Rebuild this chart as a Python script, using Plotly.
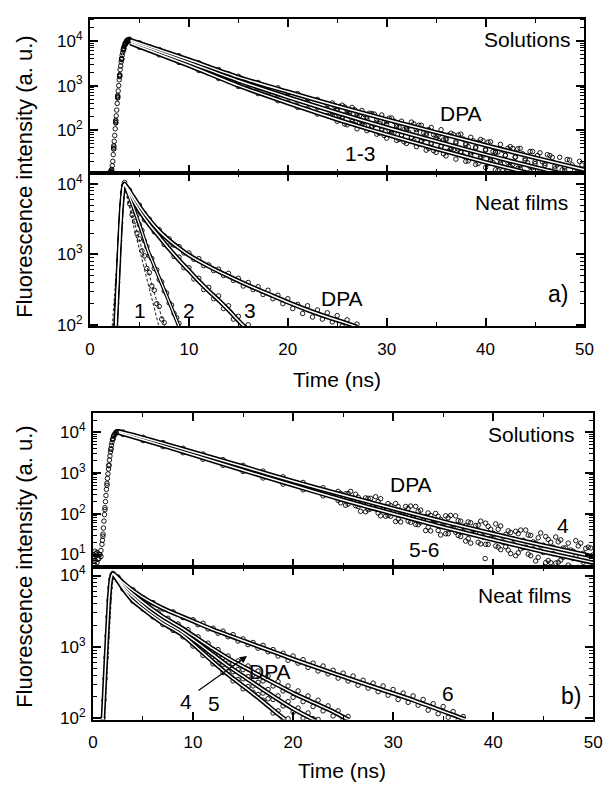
import plotly.graph_objects as go

W, H = 613, 788

# ======================= DATA (log10 of intensity) =======================
# shared time grids (ns)
T_TAIL = [24.5, 25.0, 25.5, 26.0, 26.5, 27.0, 27.5, 28.0, 28.5, 29.0, 29.5, 30.0,
          30.5, 31.0, 31.5, 32.0, 32.5, 33.0, 33.5, 34.0, 34.5, 35.0, 35.5, 36.0,
          36.5, 37.0, 37.5, 38.0, 38.5, 39.0, 39.5, 40.0, 40.5, 41.0, 41.5, 42.0,
          42.5, 43.0, 43.5, 44.0, 44.5, 45.0, 45.5, 46.0, 46.5, 47.0, 47.5, 48.0,
          48.5, 49.0, 49.5, 50.0]
T_TAIL_Q = [24.75, 25.25, 25.75, 26.25, 26.75, 27.25, 27.75, 28.25, 28.75, 29.25, 29.75,
            30.25, 30.75, 31.25, 31.75, 32.25, 32.75, 33.25, 33.75, 34.25, 34.75,
            35.25, 35.75, 36.25, 36.75, 37.25, 37.75, 38.25, 38.75, 39.25, 39.75,
            40.25, 40.75, 41.25, 41.75, 42.25, 42.75, 43.25, 43.75, 44.25, 44.75,
            45.25, 45.75, 46.25, 46.75, 47.25, 47.75, 48.25, 48.75, 49.25, 49.75]

# ---- panel a, solutions (curves 1-3, DPA) ----
T_A_SOL_RISE = [2.2, 2.4, 2.6, 2.8, 3.0, 3.2, 3.4, 3.6, 3.8, 4.0]
T_A_SOL_MID = [5, 6, 7, 8, 9, 10, 11, 12, 13, 14, 15, 16, 17, 18, 19, 20, 21, 22, 23, 24]

A_SOL_DPA = [1.05, 1.62, 2.20, 2.75, 3.22, 3.60, 3.82, 3.95, 4.02, 4.04,
             3.96, 3.87, 3.81, 3.72, 3.67, 3.57, 3.51, 3.41, 3.36, 3.26, 3.21, 3.10, 3.07, 2.97,
             2.95, 2.84, 2.82, 2.71, 2.69, 2.58,
             2.61, 2.49, 2.56, 2.44, 2.51, 2.37, 2.44, 2.30, 2.37, 2.24, 2.34, 2.19, 2.27, 2.11,
             2.20, 2.05, 2.18, 2.01, 2.11, 1.93, 2.06, 1.88, 2.01, 1.81, 1.93, 1.74, 1.91, 1.70,
             1.84, 1.62, 1.79, 1.57, 1.74, 1.50, 1.68, 1.43, 1.63, 1.39, 1.59, 1.32, 1.52, 1.25,
             1.49, 1.21, 1.43, 1.13, 1.39, 1.09, 1.33, 1.01, 1.30, 0.97]
A_SOL_3 = [1.08, 1.65, 2.22, 2.78, 3.24, 3.61, 3.83, 3.95, 4.01, 4.01,
           3.91, 3.85, 3.75, 3.69, 3.59, 3.53, 3.43, 3.37, 3.26, 3.21, 3.09, 3.06, 2.94, 2.91,
           2.79, 2.76, 2.65, 2.62, 2.51, 2.48,
           2.40, 2.44, 2.30, 2.37, 2.24, 2.32, 2.19, 2.25, 2.09, 2.18, 2.03, 2.13, 1.98, 2.07,
           1.89, 2.00, 1.84, 1.95, 1.77, 1.89, 1.69, 1.82, 1.64, 1.78, 1.56, 1.71, 1.51, 1.67,
           1.44, 1.60, 1.37, 1.55, 1.32, 1.51, 1.26, 1.44, 1.18, 1.40, 1.14, 1.36, 1.06, 1.29,
           1.01, 1.25, 0.94, 1.19, 0.89, 1.15, 0.82, 1.09, 0.77, 1.06]
A_SOL_12 = [1.02, 1.58, 2.17, 2.72, 3.20, 3.58, 3.80, 3.93, 3.99, 3.98,
            3.86, 3.80, 3.69, 3.63, 3.52, 3.46, 3.34, 3.28, 3.16, 3.10, 2.98, 2.94, 2.82, 2.79,
            2.66, 2.63, 2.51, 2.48, 2.36, 2.33,
            2.33, 2.20, 2.27, 2.12, 2.19, 2.03, 2.13, 1.99, 2.07, 1.91, 2.00, 1.82, 1.93, 1.77,
            1.88, 1.70, 1.83, 1.63, 1.75, 1.55, 1.71, 1.50, 1.64, 1.42, 1.59, 1.35, 1.52, 1.30,
            1.49, 1.23, 1.41, 1.16, 1.38, 1.11, 1.32, 1.04, 1.28, 0.99, 1.21, 0.92, 1.18, 0.87,
            1.11, 0.80, 1.08, 0.75, 1.01, 0.68, 0.98, 0.63, 0.92, 0.56]
# extra rise / tail points of the solution cloud
T_A_SOL_RISE2 = [2.05, 2.15, 2.25, 2.35, 2.45, 2.55, 2.65, 2.75, 2.85, 2.95, 3.05, 3.15,
                 3.25, 3.35, 3.45, 3.55, 3.65, 3.75, 3.85, 3.95]
A_SOL_RISE2 = [1.07, 1.10, 1.20, 1.45, 1.75, 2.03, 2.32, 2.60, 2.88, 3.13, 3.36, 3.53,
               3.68, 3.80, 3.88, 3.94, 3.98, 4.01, 4.03, 4.03]
T_A_SOL_RISE3 = [2.1, 2.2, 2.3, 2.4, 2.5, 2.6, 2.7, 2.8, 2.9, 3.0, 3.1, 3.2, 3.3, 3.4,
                 3.5, 3.6, 3.7, 3.8, 3.9]
A_SOL_RISE3 = [1.05, 1.12, 1.30, 1.58, 1.88, 2.16, 2.45, 2.74, 3.00, 3.24, 3.44, 3.60,
               3.74, 3.84, 3.91, 3.96, 4.00, 4.02, 4.03]
A_SOL_CLOUD1 = [2.53, 2.33, 2.52, 2.33, 2.13, 2.32, 2.09, 2.38, 2.12, 1.93, 2.18, 2.27, 1.94,
                1.79, 2.01, 2.09, 1.76, 2.11, 1.80, 1.59, 1.90, 1.77, 1.47, 1.89, 1.56, 1.89,
                1.42, 1.63, 1.76, 1.25, 1.43, 1.73, 1.27, 1.51, 1.09, 1.59, 1.23, 1.58, 1.03,
                1.27, 1.52, 0.87, 1.29, 0.99, 1.39, 0.81, 1.11, 1.34, 0.66, 1.13, 0.72]
A_SOL_CLOUD2 = [2.31, 2.53, 2.14, 2.37, 2.46, 2.16, 2.35, 2.02, 2.36, 2.15, 1.88, 1.99, 2.20,
                2.07, 1.74, 1.95, 2.14, 1.69, 1.94, 2.01, 1.54, 1.89, 1.78, 1.53, 1.90, 1.57,
                1.80, 1.31, 1.52, 1.73, 1.76, 1.25, 1.52, 1.09, 1.55, 1.28, 1.59, 1.14, 1.47,
                0.92, 1.16, 1.43, 0.82, 1.45, 0.99, 1.22, 0.69, 0.94, 1.22, 0.67, 1.22]

A_SOL_FIT_T = [4.1, 10, 15, 20, 25, 30, 35, 40, 45, 50]
A_SOL_FIT_DPA = [4.02, 3.58, 3.19, 2.86, 2.54, 2.24, 1.95, 1.66, 1.38, 1.11]
A_SOL_FIT_3 = [3.99, 3.52, 3.11, 2.74, 2.39, 2.06, 1.75, 1.45, 1.17, 0.90]
A_SOL_FIT_12 = [3.95, 3.45, 3.00, 2.61, 2.24, 1.90, 1.58, 1.28, 1.00, 0.73]

# ---- panel a, neat films (curves 1, 2, 3, DPA) ----
T_A_NF_RISE = [2.6, 2.7, 2.8, 2.9, 3.0, 3.1, 3.2, 3.3, 3.4, 3.5]
A_NF_RISE = [1.99, 2.30, 2.60, 2.90, 3.20, 3.45, 3.70, 3.88, 3.98, 4.02]
T_A_NF_HALF = [4.0, 4.5, 5.0, 5.5, 6.0, 6.5, 7.0, 7.5, 8.0, 8.5, 9.0, 9.5, 10.0, 10.5,
               11.0, 11.5, 12.0, 12.5, 13.0, 13.5, 14.0, 14.5, 15.0, 15.5, 16.0, 16.5,
               17.0, 17.5, 18.0, 18.5, 19.0, 19.5, 20.0, 20.5, 21.0, 21.5, 22.0, 22.5,
               23.0, 23.5, 24.0, 24.5, 25.0, 25.5, 26.0, 26.5, 27.0]
T_A_NF_QUART = [4.0, 4.25, 4.5, 4.75, 5.0, 5.25, 5.5, 5.75, 6.0, 6.25, 6.5, 6.75, 7.0,
                7.25, 7.5, 7.75, 8.0, 8.25, 8.5, 8.75, 9.0]
A_NF_DPA = [3.91, 3.78, 3.70, 3.58, 3.50, 3.39, 3.35, 3.26, 3.22, 3.13, 3.11, 3.02, 3.02,
            2.93, 2.94, 2.84, 2.85, 2.77, 2.79, 2.70, 2.73, 2.63, 2.66, 2.55, 2.60, 2.50,
            2.54, 2.43, 2.49, 2.37, 2.42, 2.30, 2.37, 2.23, 2.29, 2.16, 2.27, 2.11, 2.21,
            2.08, 2.17, 2.04, 2.13, 1.98, 2.07, 1.94, 2.01]
A_NF_3 = [3.88, 3.72, 3.64, 3.49, 3.45, 3.32, 3.28, 3.14, 3.12, 2.97, 2.96, 2.81, 2.81,
          2.65, 2.66, 2.50, 2.53, 2.37, 2.41, 2.23, 2.27, 2.08, 2.12, 1.94, 2.00, 1.87]
A_NF_2 = [3.77, 3.64, 3.56, 3.42, 3.34, 3.19, 3.11, 2.98, 2.94, 2.80, 2.78, 2.64, 2.61,
          2.48, 2.45, 2.31, 2.28, 2.16, 2.10, 2.02]
A_NF_1 = [3.72, 3.56, 3.47, 3.30, 3.22, 3.05, 2.98, 2.80, 2.74, 2.55, 2.49, 2.30, 2.26,
          2.08, 2.03]

A_NF_FIT_DPA_T = [2.6, 2.8, 3.0, 3.2, 3.4, 3.5, 4, 5, 6, 7, 8, 9, 10, 12, 14, 16, 18, 20,
                  22, 24, 26, 27]
A_NF_FIT_DPA = [1.99, 2.60, 3.20, 3.70, 3.97, 4.00, 3.90, 3.68, 3.49, 3.33, 3.20, 3.09,
                2.99, 2.83, 2.69, 2.56, 2.44, 2.32, 2.21, 2.11, 2.02, 1.97]
A_NF_FIT_3_T = [2.6, 2.8, 3.0, 3.2, 3.4, 3.5, 4, 5, 6, 7, 8, 9, 10, 11, 12, 13, 14, 15, 16]
A_NF_FIT_3 = [1.99, 2.60, 3.20, 3.70, 3.97, 4.00, 3.86, 3.62, 3.42, 3.25, 3.08, 2.92,
              2.77, 2.62, 2.48, 2.35, 2.21, 2.06, 1.92]
A_NF_FIT_2_T = [3.5, 4.25, 5.2, 5.9, 6.9, 7.9, 8.9, 9.3]
A_NF_FIT_2 = [4.00, 3.72, 3.34, 3.04, 2.70, 2.36, 2.01, 1.88]
A_NF_DASH1_T = [2.25, 2.5, 2.75, 3.0, 3.2, 3.4, 4.5, 5.5, 6.5, 7.5, 7.7]
A_NF_DASH1 = [1.98, 2.45, 2.95, 3.45, 3.80, 4.00, 3.45, 2.95, 2.45, 2.00, 1.90]
A_NF_DASH2_T = [2.45, 2.7, 2.95, 3.15, 3.35, 3.45, 4.5, 5.5, 6.5, 6.9, 7.1]
A_NF_DASH2 = [1.98, 2.50, 3.05, 3.50, 3.85, 4.00, 3.35, 2.80, 2.22, 2.00, 1.90]

# ---- panel b, solutions (curves 4-6, DPA) ----
T_B_SOL_RISE = [0.0, 0.2, 0.4, 0.6, 0.8, 1.0, 1.2, 1.4, 1.6, 1.8, 2.0, 2.2, 2.4, 2.6]
T_B_SOL_MID = [3, 4, 5, 6, 7, 8, 9, 10, 11, 12, 13, 14, 15, 16, 17, 18, 19, 20, 21, 22, 23, 24]
B_SOL_DPA4 = [1.00, 0.85, 1.05, 0.90, 1.10, 1.50, 2.15, 2.75, 3.20, 3.60, 3.85, 3.97, 4.02, 4.02,
              4.01, 3.92, 3.88, 3.78, 3.75, 3.64, 3.61, 3.50, 3.47, 3.35, 3.33, 3.20, 3.19,
              3.06, 3.05, 2.91, 2.91, 2.76, 2.77, 2.62, 2.64, 2.49,
              2.55, 2.41, 2.50, 2.33, 2.41, 2.26, 2.38, 2.20, 2.30, 2.12, 2.25, 2.06, 2.18, 1.98,
              2.13, 1.92, 2.06, 1.84, 2.02, 1.78, 1.94, 1.69, 1.90, 1.65, 1.83, 1.56, 1.80, 1.52,
              1.72, 1.43, 1.69, 1.39, 1.62, 1.30, 1.58, 1.26, 1.51, 1.17, 1.48, 1.14, 1.41, 1.05,
              1.37, 1.02, 1.31, 0.93, 1.28, 0.90, 1.21, 0.81, 1.18, 0.78]
B_SOL_56 = [0.90, 1.08, 0.80, 1.00, 0.95, 1.45, 2.10, 2.70, 3.18, 3.58, 3.83, 3.95, 4.00, 4.00,
            3.95, 3.90, 3.80, 3.76, 3.65, 3.62, 3.50, 3.47, 3.34, 3.32, 3.19, 3.18, 3.04,
            3.03, 2.88, 2.88, 2.73, 2.73, 2.59, 2.59, 2.44, 2.44,
            2.33, 2.40, 2.24, 2.32, 2.18, 2.28, 2.10, 2.20, 2.02, 2.16, 1.96, 2.08, 1.87, 2.02,
            1.82, 1.97, 1.73, 1.89, 1.67, 1.86, 1.59, 1.77, 1.51, 1.73, 1.47, 1.69, 1.39, 1.60,
            1.30, 1.55, 1.25, 1.52, 1.18, 1.43, 1.11, 1.39, 1.04, 1.35, 1.01, 1.31, 0.93, 1.23,
            0.85, 1.18, 0.81, 1.16, 0.74, 1.08, 0.68, 1.03, 0.68, 0.99]
T_B_SOL_RISE2 = [0.1, 0.3, 0.5, 0.7, 0.9, 1.1, 1.3, 1.5, 1.7, 1.9, 2.1, 2.3, 2.5]
B_SOL_RISE2 = [0.95, 1.02, 0.88, 1.00, 1.25, 1.82, 2.45, 2.98, 3.42, 3.75, 3.93, 4.00, 4.02]
T_B_SOL_RISE3 = [0.95, 1.05, 1.15, 1.25, 1.35, 1.45, 1.55, 1.65, 1.75, 1.85, 1.95, 2.05]
B_SOL_RISE3 = [1.35, 1.65, 1.98, 2.30, 2.60, 2.87, 3.10, 3.32, 3.52, 3.68, 3.82, 3.90]
B_SOL_CLOUD1 = [2.27, 2.49, 2.55, 2.20, 2.33, 2.05, 2.38, 2.12, 2.37, 1.94, 2.20, 1.81, 2.06,
                2.18, 1.79, 2.18, 1.79, 1.59, 1.96, 1.83, 1.48, 1.95, 1.62, 1.95, 1.44, 1.71,
                1.28, 1.71, 1.82, 1.25, 1.40, 1.75, 1.12, 1.49, 1.02, 1.57, 1.14, 1.60, 0.97,
                1.28, 1.53, 0.80, 1.30, 0.79, 1.36, 0.68, 1.11, 1.34, 0.66, 1.15, 0.56]
B_SOL_CLOUD2 = [2.50, 2.21, 2.31, 2.48, 2.06, 2.39, 2.12, 2.42, 1.95, 2.18, 1.94, 2.25, 1.80,
                2.00, 2.19, 1.74, 2.09, 1.93, 1.58, 2.01, 1.86, 1.51, 1.96, 1.55, 1.82, 1.33,
                1.78, 1.53, 1.26, 1.77, 1.62, 1.21, 1.70, 1.19, 1.54, 0.97, 1.60, 1.18, 1.47,
                0.84, 1.21, 1.44, 0.80, 1.43, 0.86, 1.16, 0.69, 0.96, 1.28, 0.57, 1.16]
B_SOL_OUTLIER_T = [39.2]
B_SOL_OUTLIER = [0.90]

B_SOL_FIT_T = [2.6, 5, 10, 15, 20, 25, 30, 35, 40, 45, 50]
B_SOL_FIT_DPA4 = [4.02, 3.87, 3.52, 3.16, 2.80, 2.46, 2.13, 1.81, 1.51, 1.22, 0.95]
B_SOL_FIT_56 = [3.99, 3.82, 3.45, 3.07, 2.70, 2.34, 2.00, 1.67, 1.36, 1.07, 0.80]

# ---- panel b, neat films (curves 4, 5, 6, DPA) ----
T_B_NF_RISE = [1.0, 1.1, 1.2, 1.3, 1.4, 1.5, 1.6, 1.7, 1.8, 1.9, 2.0]
B_NF_RISE = [2.00, 2.25, 2.55, 2.85, 3.15, 3.42, 3.65, 3.83, 3.95, 4.01, 4.03]
T_B_NF_HALF = [2.5, 3.0, 3.5, 4.0, 4.5, 5.0, 5.5, 6.0, 6.5, 7.0, 7.5, 8.0, 8.5, 9.0, 9.5,
               10.0, 10.5, 11.0, 11.5, 12.0, 12.5, 13.0, 13.5, 14.0, 14.5, 15.0, 15.5, 16.0,
               16.5, 17.0, 17.5, 18.0, 18.5, 19.0, 19.5, 20.0, 20.5, 21.0, 21.5, 22.0, 22.5,
               23.0, 23.5, 24.0, 24.5, 25.0, 25.5]
T_B_NF_6 = [2.5, 3, 4, 5, 6, 7, 8, 9,
            10.0, 10.5, 11.0, 11.5, 12.0, 12.5, 13.0, 13.5, 14.0, 14.5, 15.0, 15.5, 16.0,
            16.5, 17.0, 17.5, 18.0, 18.5, 19.0, 19.5, 20.0, 20.5, 21.0, 21.5, 22.0, 22.5,
            23.0, 23.5, 24.0, 24.5, 25.0, 25.5, 26.0, 26.5, 27.0, 27.5, 28.0, 28.5, 29.0,
            29.5, 30.0, 30.5, 31.0, 31.5, 32.0, 32.5, 33.0, 33.5, 34.0, 34.5, 35.0, 35.5,
            36.0, 36.5, 37.0]
B_NF_6 = [3.98, 3.89, 3.80, 3.69, 3.62, 3.53, 3.49, 3.41,
          3.38, 3.31, 3.33, 3.25, 3.26, 3.19, 3.22, 3.14, 3.17, 3.08, 3.11, 3.03, 3.06, 2.98,
          3.02, 2.93, 2.96, 2.87, 2.91, 2.81, 2.87, 2.77, 2.82, 2.71, 2.77, 2.66, 2.73, 2.62,
          2.67, 2.56, 2.63, 2.52, 2.59, 2.46, 2.53, 2.42, 2.49, 2.37, 2.45, 2.32, 2.40, 2.26,
          2.35, 2.22, 2.31, 2.18, 2.26, 2.11, 2.20, 2.06, 2.16, 2.01, 2.09, 1.97, 2.02]
B_NF_4 = [3.93, 3.81, 3.74, 3.64, 3.60, 3.53, 3.49, 3.42, 3.39, 3.31, 3.30, 3.23, 3.23,
          3.14, 3.12, 3.01, 3.00, 2.88, 2.88, 2.76, 2.76, 2.64, 2.65, 2.52, 2.54, 2.41,
          2.44, 2.36, 2.33, 2.25, 2.27, 2.07, 2.10, 1.98, 1.99]
B_NF_5 = [3.94, 3.83, 3.78, 3.69, 3.65, 3.57, 3.53, 3.46, 3.44, 3.35, 3.35, 3.27, 3.27,
          3.18, 3.18, 3.08, 3.08, 2.96, 2.97, 2.86, 2.87, 2.75, 2.77, 2.65, 2.68, 2.55,
          2.58, 2.45, 2.50, 2.35, 2.40, 2.26, 2.31, 2.17, 2.23, 2.08, 2.14, 2.00, 2.07,
          1.99, 1.98]
B_NF_DPA = [3.96, 3.86, 3.82, 3.73, 3.70, 3.61, 3.59, 3.50, 3.49, 3.40, 3.40, 3.31, 3.32,
            3.22, 3.24, 3.13, 3.14, 3.04, 3.05, 2.94, 2.96, 2.85, 2.87, 2.76, 2.80, 2.68,
            2.73, 2.61, 2.66, 2.52, 2.59, 2.45, 2.51, 2.38, 2.45, 2.29, 2.38, 2.23, 2.31,
            2.16, 2.25, 2.10, 2.17, 2.03, 2.10, 1.99, 2.02]

B_NF_FIT_6_T = [1.0, 1.3, 1.6, 1.8, 2.0, 3, 4, 5.5, 7, 8.8, 10, 12, 15.3, 18.6, 20.5, 24,
                28.6, 32, 36.8, 37.2]
B_NF_FIT_6 = [2.00, 2.85, 3.65, 3.95, 4.03, 3.90, 3.79, 3.65, 3.54, 3.43, 3.36, 3.24,
              3.07, 2.90, 2.80, 2.63, 2.41, 2.25, 2.00, 1.98]
B_NF_FIT_4_T = [2, 3, 3.9, 5.5, 7, 8.8, 10.4, 12, 13.6, 15.3, 17, 18.55, 19.2]
B_NF_FIT_4 = [4.03, 3.82, 3.66, 3.48, 3.33, 3.18, 2.99, 2.79, 2.60, 2.42, 2.23, 2.05, 1.98]
B_NF_FIT_5_T = [2, 3, 4, 5.5, 7, 8.8, 10.4, 12, 13.6, 15.3, 17, 18.5, 20, 22, 22.3]
B_NF_FIT_5 = [4.03, 3.84, 3.70, 3.52, 3.37, 3.22, 3.06, 2.89, 2.72, 2.56, 2.40, 2.26,
              2.13, 1.98, 1.96]
B_NF_FIT_DPA_T = [2, 3, 4, 5.5, 7, 8.8, 10.4, 12, 13.6, 15.3, 17, 18.5, 20, 22, 24, 25.2, 25.5]
B_NF_FIT_DPA = [4.03, 3.87, 3.74, 3.57, 3.42, 3.27, 3.12, 2.97, 2.83, 2.70, 2.57, 2.46,
                2.35, 2.22, 2.09, 2.00, 1.98]
B_NF_IRF_T = [1.15, 1.4, 1.65, 1.9, 2.1]
B_NF_IRF = [1.98, 2.60, 3.30, 3.85, 4.00]

# tick labels
X_TICKS = [0, 10, 20, 30, 40, 50]
Y_EXP_A_SOL = [2, 3, 4]
Y_EXP_A_NF = [2, 3, 4]
Y_EXP_B_SOL = [1, 2, 3, 4]
Y_EXP_B_NF = [2, 3, 4]

# ======================= FIGURE =======================
FONT = "Liberation Sans, Arial, sans-serif"
fig = go.Figure()


def lin(v):
    return [10 ** a for a in v]


def data(t, v, ax):
    fig.add_trace(go.Scatter(
        x=t, y=lin(v), mode="markers", xaxis="x" + ax, yaxis="y" + ax,
        marker=dict(symbol="circle-open", size=4.5, color="black",
                    line=dict(width=0.9, color="black")),
        showlegend=False, hoverinfo="skip"))


def fit_under(t, v, ax, w=4.6):
    fig.add_trace(go.Scatter(
        x=t, y=lin(v), mode="lines", xaxis="x" + ax, yaxis="y" + ax,
        line=dict(color="black", width=w, shape="spline", smoothing=0.6),
        showlegend=False, hoverinfo="skip"))


def fit_over(t, v, ax, w=1.5):
    fig.add_trace(go.Scatter(
        x=t, y=lin(v), mode="lines", xaxis="x" + ax, yaxis="y" + ax,
        line=dict(color="white", width=w, shape="spline", smoothing=0.6),
        showlegend=False, hoverinfo="skip"))


def dashed(t, v, ax):
    fig.add_trace(go.Scatter(
        x=t, y=lin(v), mode="lines", xaxis="x" + ax, yaxis="y" + ax,
        line=dict(color="#333333", width=1.1, dash="3px,2px"),
        showlegend=False, hoverinfo="skip"))


# ---- panel a, solutions: axis '' (x/y) ----
for f in (A_SOL_FIT_DPA, A_SOL_FIT_3, A_SOL_FIT_12):
    fit_under(A_SOL_FIT_T, f, "")
for d in (A_SOL_DPA, A_SOL_3, A_SOL_12):
    data(T_A_SOL_RISE + T_A_SOL_MID + T_TAIL, d, "")
data(T_A_SOL_RISE2, A_SOL_RISE2, "")
data(T_A_SOL_RISE3, A_SOL_RISE3, "")
data(T_TAIL_Q, A_SOL_CLOUD1, "")
data(T_TAIL_Q, A_SOL_CLOUD2, "")
for f in (A_SOL_FIT_DPA, A_SOL_FIT_3, A_SOL_FIT_12):
    fit_over(A_SOL_FIT_T, f, "")

# ---- panel a, neat films: axis 2 ----
dashed(A_NF_DASH1_T, A_NF_DASH1, "2")
dashed(A_NF_DASH2_T, A_NF_DASH2, "2")
fit_under(A_NF_FIT_DPA_T, A_NF_FIT_DPA, "2")
fit_under(A_NF_FIT_3_T, A_NF_FIT_3, "2")
fit_under(A_NF_FIT_2_T, A_NF_FIT_2, "2", 3.6)
data(T_A_NF_RISE, A_NF_RISE, "2")
data(T_A_NF_HALF, A_NF_DPA, "2")
data(T_A_NF_HALF[:26], A_NF_3, "2")
data(T_A_NF_QUART[1:], A_NF_2, "2")
data(T_A_NF_QUART[:15], A_NF_1, "2")
fit_over(A_NF_FIT_DPA_T, A_NF_FIT_DPA, "2")
fit_over(A_NF_FIT_3_T, A_NF_FIT_3, "2")
fit_over(A_NF_FIT_2_T, A_NF_FIT_2, "2", 1.2)

# ---- panel b, solutions: axis 3 ----
for f in (B_SOL_FIT_DPA4, B_SOL_FIT_56):
    fit_under(B_SOL_FIT_T, f, "3")
data(T_B_SOL_RISE + T_B_SOL_MID + T_TAIL, B_SOL_DPA4, "3")
data(T_B_SOL_RISE + T_B_SOL_MID + T_TAIL, B_SOL_56, "3")
data(T_B_SOL_RISE2, B_SOL_RISE2, "3")
data(T_B_SOL_RISE3, B_SOL_RISE3, "3")
data(T_TAIL_Q, B_SOL_CLOUD1, "3")
data(T_TAIL_Q, B_SOL_CLOUD2, "3")
data(B_SOL_OUTLIER_T, B_SOL_OUTLIER, "3")
for f in (B_SOL_FIT_DPA4, B_SOL_FIT_56):
    fit_over(B_SOL_FIT_T, f, "3")

# ---- panel b, neat films: axis 4 ----
dashed(B_NF_IRF_T, B_NF_IRF, "4")
for t, f in ((B_NF_FIT_6_T, B_NF_FIT_6), (B_NF_FIT_4_T, B_NF_FIT_4),
             (B_NF_FIT_5_T, B_NF_FIT_5), (B_NF_FIT_DPA_T, B_NF_FIT_DPA)):
    fit_under(t, f, "4")
data(T_B_NF_RISE, B_NF_RISE, "4")
data(T_B_NF_6, B_NF_6, "4")
data(T_B_NF_HALF[:35], B_NF_4, "4")
data(T_B_NF_HALF[:41], B_NF_5, "4")
data(T_B_NF_HALF, B_NF_DPA, "4")
for t, f in ((B_NF_FIT_6_T, B_NF_FIT_6), (B_NF_FIT_4_T, B_NF_FIT_4),
             (B_NF_FIT_5_T, B_NF_FIT_5), (B_NF_FIT_DPA_T, B_NF_FIT_DPA)):
    fit_over(t, f, "4")


# ---- axes ----
def px(x):
    return x / W


def py(y):
    return 1 - y / H


def xaxis(x0, x1, anchor, labels):
    return dict(domain=[px(x0), px(x1)], anchor=anchor, range=[0, 50],
                tickmode="array", tickvals=X_TICKS, ticktext=[str(v) for v in X_TICKS],
                ticks="inside", ticklen=8,
                tickwidth=1.5, tickcolor="black", mirror="allticks", showline=True,
                linewidth=2, linecolor="black", showgrid=False, zeroline=False,
                showticklabels=labels, ticklabelstandoff=6,
                tickfont=dict(family=FONT, size=17, color="black"),
                minor=dict(tickmode="linear", tick0=0, dtick=5, ticks="inside", ticklen=4,
                           tickwidth=1.2, tickcolor="black", showgrid=False))


def yaxis(ytop, ybot, anchor, rng, exps):
    return dict(domain=[py(ybot), py(ytop)], anchor=anchor, type="log", range=rng,
                tickmode="array", tickvals=[10 ** k for k in exps],
                ticktext=["10<sup>%d</sup>" % k for k in exps],
                ticks="inside", ticklen=8, tickwidth=1.5, tickcolor="black",
                mirror="allticks", showline=True, linewidth=2, linecolor="black",
                showgrid=False, zeroline=False, ticklabelstandoff=2,
                tickfont=dict(family=FONT, size=17, color="black"),
                minor=dict(tickmode="linear", dtick="D1", ticks="inside", ticklen=4,
                           tickwidth=1, tickcolor="black", showgrid=False))


AX_L, AX_R = 87, 593
BX_L, BX_R = 90, 602
fig.update_layout(
    xaxis=xaxis(AX_L, AX_R, "y", False),
    yaxis=yaxis(15, 171.7, "x", [1.036, 4.50], Y_EXP_A_SOL),
    xaxis2=xaxis(AX_L, AX_R, "y2", True),
    yaxis2=yaxis(171.7, 327.3, "x2", [1.978, 4.154], Y_EXP_A_NF),
    xaxis3=xaxis(BX_L, BX_R, "y3", False),
    yaxis3=yaxis(415, 571.7, "x3", [0.693, 4.484], Y_EXP_B_SOL),
    xaxis4=xaxis(BX_L, BX_R, "y4", True),
    yaxis4=yaxis(571.7, 726.7, "x4", [1.977, 4.12], Y_EXP_B_NF),
)

# ---- text ----
ann = []


def label(text, x, y, size=21, angle=0):
    ann.append(dict(text=text, x=px(x), y=py(y), xref="paper", yref="paper",
                    showarrow=False, xanchor="center", yanchor="middle", textangle=angle,
                    font=dict(family=FONT, size=size, color="black")))


label("Solutions", 534, 36)
label("DPA", 467, 111)
label("1-3", 363, 152)
label("Neat films", 529, 202)
label("a)", 566, 294, 23)
label("DPA", 345, 299)
label("1", 138, 311)
label("2", 188, 311)
label("3", 251, 311)
label("Time (ns)", 340, 381)
label("Fluorescence intensity (a. u.)", 20, 176, 22, -90)

label("Solutions", 538, 437)
label("DPA", 415, 488)
label("4", 571, 530)
label("5-6", 429, 554)
label("Neat films", 532, 601)
label("b)", 579, 703, 23)
label("6", 453, 700)
label("DPA", 271, 678)
label("4", 185, 708)
label("5", 214, 710)
label("Time (ns)", 345, 778)
label("Fluorescence intensity (a. u.)", 20, 572, 22, -90)

ann.append(dict(x=15.4, y=2.87, xref="x4", yref="y4", ax=10.4, ay=2.37,
                axref="x4", ayref="y4", showarrow=True, arrowhead=2, arrowsize=1.2,
                arrowwidth=1.2, arrowcolor="black", text=""))

fig.update_layout(
    annotations=ann, width=W, height=H, autosize=False,
    margin=dict(l=0, r=0, t=0, b=0),
    paper_bgcolor="white", plot_bgcolor="white",
    font=dict(family=FONT, color="black"),
)

fig.write_html("out.html")
